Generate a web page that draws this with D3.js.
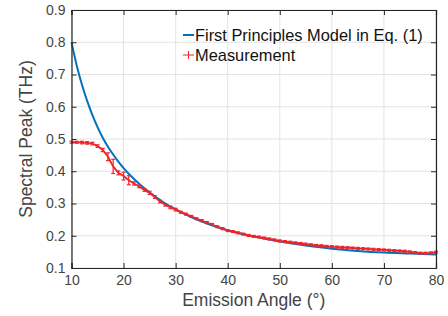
<!DOCTYPE html>
<html><head><meta charset="utf-8">
<script src="https://cdn.jsdelivr.net/npm/d3@7"></script>
<style>body{margin:0;background:#fff}svg{display:block}text{font-family:"Liberation Sans",Arial,Helvetica,sans-serif}</style>
</head><body><svg id="c" width="448" height="316"></svg>
<script>
const xTicks=[10,20,30,40,50,60,70,80];
const yTicks=[0.1,0.2,0.3,0.4,0.5,0.6,0.7,0.8,0.9];
const modelAngle=[10,11,12,13,14,15,16,17,18,19,20,22,24,26,28,30,33,36,40,45,50,55,60,65,70,75,80];
const modelPeak=[0.800,0.728,0.669,0.618,0.575,0.537,0.504,0.476,0.452,0.430,0.410,0.376,0.347,0.322,0.300,0.282,0.258,0.238,0.217,0.198,0.182,0.170,0.160,0.153,0.148,0.145,0.142];
const measAngle=d3.range(10,81);
const measPeak=[0.490,0.490,0.489,0.488,0.486,0.478,0.466,0.445,0.415,0.395,0.385,0.372,0.362,0.353,0.342,0.333,0.320,0.306,0.296,0.288,0.281,
0.273,0.267,0.260,0.253,0.247,0.241,0.235,0.228,0.222,0.216,
0.213,0.209,0.205,0.201,0.198,0.196,0.193,0.190,0.187,0.184,
0.182,0.180,0.178,0.176,0.174,0.172,0.170,0.169,0.167,0.166,
0.165,0.164,0.163,0.162,0.161,0.160,0.159,0.158,0.157,0.156,
0.155,0.154,0.153,0.152,0.150,0.148,0.146,0.146,0.147,0.149];
const measErr=[0.003,0.003,0.004,0.004,0.004,0.004,0.005,0.012,0.022,0.006,0.012,0.014,0.005,0.004,0.004,0.005,0.004,0.004,0.004,0.004,0.004,
0.003,0.003,0.003,0.003,0.003,0.003,0.003,0.003,0.003,0.003,
0.003,0.003,0.003,0.003,0.003,0.003,0.003,0.003,0.003,0.003,
0.003,0.003,0.003,0.003,0.003,0.003,0.003,0.003,0.003,0.003,
0.003,0.003,0.003,0.003,0.003,0.003,0.003,0.003,0.003,0.003,
0.003,0.003,0.003,0.003,0.003,0.003,0.003,0.003,0.003,0.003];
const legendLabels=["First Principles Model in Eq. (1)","Measurement"];

const svg=d3.select("#c");
const L=71.5,R=436,T=10,B=268;
const x=d3.scaleLinear().domain([10,80]).range([L,R]);
const y=d3.scaleLinear().domain([0.1,0.9]).range([B,T]);
const axisCol="#262626", txtCol="#444";

// grid
const g=svg.append("g");
g.selectAll(".gx").data(xTicks).join("line").attr("x1",d=>x(d)).attr("x2",d=>x(d)).attr("y1",T).attr("y2",B).attr("stroke","#e3e3e3").attr("stroke-width",1);
g.selectAll(".gy").data(yTicks).join("line").attr("y1",d=>y(d)).attr("y2",d=>y(d)).attr("x1",L).attr("x2",R).attr("stroke","#e3e3e3").attr("stroke-width",1);

// model curve
svg.append("path").datum(modelAngle.map((a,i)=>[a,modelPeak[i]]))
 .attr("d",d3.line().x(d=>x(d[0])).y(d=>y(d[1])).curve(d3.curveMonotoneX))
 .attr("fill","none").attr("stroke","#0072BD").attr("stroke-width",2);

// measurement
const red="#f0232a";
const meas=measAngle.map((a,i)=>[a,measPeak[i],measErr[i]]);
svg.append("path").datum(meas).attr("d",d3.line().x(d=>x(d[0])).y(d=>y(d[1])))
 .attr("fill","none").attr("stroke",red).attr("stroke-width",1.8);
const eb=svg.append("g").attr("stroke",red).attr("stroke-width",1.2);
eb.selectAll("line.v").data(meas).join("line").attr("x1",d=>x(d[0])).attr("x2",d=>x(d[0])).attr("y1",d=>y(d[1]-d[2])).attr("y2",d=>y(d[1]+d[2]));
eb.selectAll("line.c1").data(meas).join("line").attr("x1",d=>x(d[0])-2).attr("x2",d=>x(d[0])+2).attr("y1",d=>y(d[1]-d[2])).attr("y2",d=>y(d[1]-d[2]));
eb.selectAll("line.c2").data(meas).join("line").attr("x1",d=>x(d[0])-2).attr("x2",d=>x(d[0])+2).attr("y1",d=>y(d[1]+d[2])).attr("y2",d=>y(d[1]+d[2]));

// axes
const ax=svg.append("g");
ax.append("g").attr("transform",`translate(0,${B})`).call(d3.axisBottom(x).tickValues(xTicks).tickSize(-5).tickPadding(7).tickFormat(d3.format("d")));
ax.append("g").attr("transform",`translate(0,${T})`).call(d3.axisTop(x).tickValues(xTicks).tickSize(-5).tickFormat(""));
ax.append("g").attr("transform",`translate(${L},0)`).call(d3.axisLeft(y).tickValues(yTicks).tickSize(-5).tickPadding(6).tickFormat(d3.format(".1f")));
ax.append("g").attr("transform",`translate(${R},0)`).call(d3.axisRight(y).tickValues(yTicks).tickSize(-5).tickFormat(""));
ax.selectAll(".domain").attr("stroke",axisCol).attr("stroke-width",1.2);
ax.selectAll(".tick line").attr("stroke",axisCol).attr("stroke-width",1);
ax.selectAll(".tick text").attr("fill",txtCol).style("font-size","14px");

// labels
svg.append("text").attr("x",(L+R)/2).attr("y",306).attr("text-anchor","middle").attr("fill",txtCol).style("font-size","17.5px").text("Emission Angle (°)");
svg.append("text").attr("transform",`translate(32,${(T+B)/2}) rotate(-90)`).attr("text-anchor","middle").attr("fill",txtCol).style("font-size","17.5px").text("Spectral Peak (THz)");

// legend
const lg=svg.append("g");
lg.append("line").attr("x1",183).attr("x2",194).attr("y1",35).attr("y2",35).attr("stroke","#0072BD").attr("stroke-width",2);
lg.append("line").attr("x1",183).attr("x2",194).attr("y1",55).attr("y2",55).attr("stroke",red).attr("stroke-width",1);
lg.append("line").attr("x1",188.5).attr("x2",188.5).attr("y1",51).attr("y2",59).attr("stroke",red).attr("stroke-width",1);
lg.selectAll("text").data(legendLabels).join("text").attr("x",195).attr("y",(d,i)=>40.5+i*20).attr("fill","#111").style("font-size","16.4px").text(d=>d);
</script></body></html>
